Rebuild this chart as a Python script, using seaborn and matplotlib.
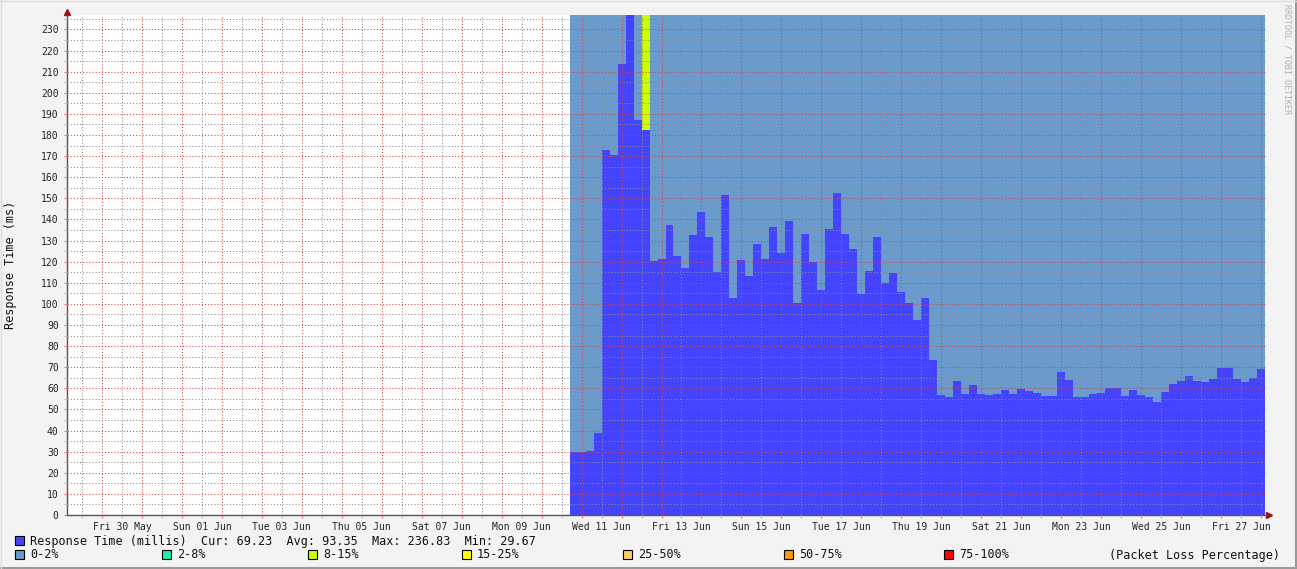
import numpy as np
import pandas as pd
import matplotlib
matplotlib.use("Agg")
import matplotlib.pyplot as plt
import matplotlib.dates as mdates
import matplotlib.transforms as mtrans
from matplotlib.patches import Rectangle
from matplotlib.lines import Line2D
from datetime import datetime, timedelta
import seaborn as sns

# ---------------- data ----------------
view_start = datetime(2025, 5, 29, 3, 0)
view_end = datetime(2025, 6, 28, 3, 0)
data_start = datetime(2025, 6, 10, 16, 48)
step_hours = 4.8

resp = [29.67, 29.7, 30.5, 39.0, 173.1, 170.4, 213.8, 236.83, 187.3, 182.5,
        120.4, 121.4, 137.5, 122.8, 116.8, 132.8, 143.3, 131.8, 114.9, 151.4,
        102.6, 120.6, 113.3, 128.2, 121.1, 136.6, 124.0, 139.1, 100.2, 132.9,
        119.6, 106.4, 135.6, 152.4, 132.9, 125.8, 104.9, 115.4, 131.8, 110.1,
        114.4, 105.4, 100.2, 92.6, 102.9, 73.5, 56.9, 55.9, 63.5, 57.4,
        61.6, 57.4, 56.9, 57.4, 59.3, 57.4, 59.7, 58.8, 57.8, 56.4,
        56.4, 67.8, 64.0, 55.9, 55.9, 57.4, 57.8, 60.2, 60.2, 56.4,
        59.3, 56.9, 55.9, 53.6, 58.3, 62.1, 63.5, 65.9, 63.5, 63.1,
        64.5, 69.7, 69.7, 64.5, 63.1, 65.0, 69.23]

loss = ["0-2%"] * 9 + ["8-15%"] + ["0-2%"] * 77

loss_levels = ["0-2%", "2-8%", "8-15%", "15-25%", "25-50%", "50-75%", "75-100%"]
loss_colors = ["#6A9BCC", "#1DEFA8", "#CCFF00", "#FFFF00", "#FFCC66", "#FF9900", "#FF0000"]
resp_color = "#4444FF"

stats_names = ["Cur", "Avg", "Max", "Min"]
stats_values = [69.23, 93.35, 236.83, 29.67]

tick_days = [datetime(2025, 5, 30) + timedelta(days=2 * i) for i in range(15)]
tick_labels = ["Fri 30 May", "Sun 01 Jun", "Tue 03 Jun", "Thu 05 Jun", "Sat 07 Jun",
               "Mon 09 Jun", "Wed 11 Jun", "Fri 13 Jun", "Sun 15 Jun", "Tue 17 Jun",
               "Thu 19 Jun", "Sat 21 Jun", "Mon 23 Jun", "Wed 25 Jun", "Fri 27 Jun"]

# ---------------- figure ----------------
W, H = 1297, 569
plt.rcParams["font.family"] = ["DejaVu Sans Mono"]
fig = plt.figure(figsize=(W / 100, H / 100), dpi=100, facecolor="#F3F3F3")
ax = fig.add_axes([67 / W, 54 / H, (1266 - 67) / W, (515 - 15) / H])
ax.set_facecolor("white")

ymax = max(resp)
step = step_hours / 24.0
t0 = mdates.date2num(data_start)
edges = (t0 + step * np.arange(len(resp) + 1)).tolist()
centers = [(a + b) / 2 for a, b in zip(edges[:-1], edges[1:])]

df = pd.DataFrame({"t": centers, "resp": resp, "loss": loss})
df["top"] = ymax
pal = dict(zip(loss_levels, loss_colors))
present = [l for l in loss_levels if l in set(loss)]

sns.histplot(data=df, x="t", weights="top", hue="loss", hue_order=present,
             palette=pal, bins=edges, multiple="layer", alpha=1, linewidth=0,
             edgecolor="none", antialiased=False, legend=False, ax=ax)
sns.histplot(data=df, x="t", weights="resp", bins=edges, color=resp_color,
             alpha=1, linewidth=0, edgecolor="none", antialiased=False, ax=ax)

ax.set_xlim(mdates.date2num(view_start), mdates.date2num(view_end))
ax.set_ylim(0, ymax)
ax.set_xlabel("")
ax.set_ylabel("")

# grid / ticks
d0 = datetime(view_start.year, view_start.month, view_start.day)
midnights = [d0 + timedelta(days=i) for i in range(1, 31)]
noons = [d0 + timedelta(days=i, hours=12) for i in range(0, 30)]
label_map = {d.date(): lab for d, lab in zip(tick_days, tick_labels)}
ax.set_xticks([mdates.date2num(d) for d in midnights])
ax.set_xticklabels([])
ax.set_xticks([mdates.date2num(d) for d in noons], minor=True)
ax.set_xticklabels([label_map.get(d.date(), "") for d in noons], minor=True)

ax.set_yticks(np.arange(0, 231, 10))
ax.set_yticks(np.arange(5, ymax, 10), minor=True)

ax.set_axisbelow(False)
ax.grid(which="major", color=(0.85, 0.25, 0.25, 0.22), linestyle=(0, (1, 2)), linewidth=0.75)
ax.grid(which="minor", color=(0.55, 0.55, 0.55, 0.28), linestyle=(0, (1, 2)), linewidth=0.75)

ax.tick_params(axis="both", which="both", length=2, width=0.8, labelsize=7, colors="#222222")
ax.tick_params(axis="x", which="major", color="#E08080")
ax.tick_params(axis="x", which="minor", color="#BBBBBB", pad=3)
ax.tick_params(axis="y", which="major", color="#E08080", pad=4)
ax.tick_params(axis="y", which="minor", color="#BBBBBB")

for s in ["top", "right"]:
    ax.spines[s].set_visible(False)
for s in ["left", "bottom"]:
    ax.spines[s].set_color("#555555")
    ax.spines[s].set_linewidth(1.0)

# axis arrows
tr_up = mtrans.offset_copy(ax.transAxes, fig=fig, x=0, y=3, units="dots")
ax.plot([0], [1], marker="^", markersize=4.5, color="#A01010", transform=tr_up, clip_on=False)
tr_rt = mtrans.offset_copy(ax.transAxes, fig=fig, x=3, y=0, units="dots")
ax.plot([1], [0], marker=">", markersize=4.5, color="#A01010", transform=tr_rt, clip_on=False)


def fx(px):
    return px / W


def fy(py):
    return 1 - py / H


fig.text(fx(11), fy(265), "Response Time (ms)", rotation=90, ha="center", va="center",
         fontsize=8.5, color="#111111")
fig.text(fx(1287), fy(4), "RRDTOOL / TOBI OETIKER", rotation=270, ha="center", va="top",
         fontsize=6, color="#B0B0B0")

# legend row 1
sq = 9
fig.add_artist(Rectangle((fx(15), fy(545)), sq / W, sq / H, transform=fig.transFigure,
                         facecolor=resp_color, edgecolor="black", linewidth=0.8))
row1 = "Response Time (millis)" + "".join(f"  {n}: {v:.2f}" for n, v in zip(stats_names, stats_values))
fig.text(fx(30), fy(541), row1, ha="left", va="center", fontsize=8.5, color="#111111")

# legend row 2
sq_x = [15, 162, 308, 462, 623, 784, 944]
for x, lab, col in zip(sq_x, loss_levels, loss_colors):
    fig.add_artist(Rectangle((fx(x), fy(559)), sq / W, sq / H, transform=fig.transFigure,
                             facecolor=col, edgecolor="black", linewidth=0.8))
    fig.text(fx(x + 15), fy(555), lab, ha="left", va="center", fontsize=8.5, color="#111111")
fig.text(fx(1280), fy(555), "(Packet Loss Percentage)", ha="right", va="center",
         fontsize=8.5, color="#111111")

# frame
fig.add_artist(Line2D([0, 1], [fy(567.5), fy(567.5)], transform=fig.transFigure, color="#9A9A9A", linewidth=1.5))
fig.add_artist(Line2D([fx(1295.5), fx(1295.5)], [0, 1], transform=fig.transFigure, color="#9A9A9A", linewidth=1.5))
fig.add_artist(Line2D([0, 1], [fy(0.5), fy(0.5)], transform=fig.transFigure, color="#DDDDDD", linewidth=1))
fig.add_artist(Line2D([fx(0.5), fx(0.5)], [0, 1], transform=fig.transFigure, color="#DDDDDD", linewidth=1))

fig.savefig("out.png", dpi=100, facecolor=fig.get_facecolor())
